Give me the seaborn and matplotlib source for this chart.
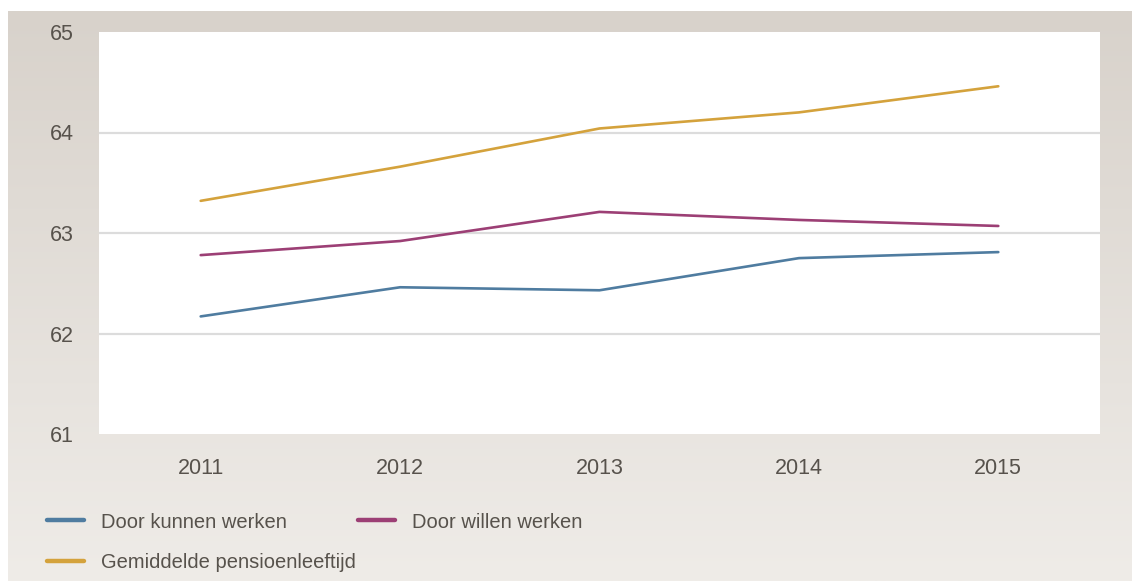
import numpy as np
import pandas as pd
import seaborn as sns
import matplotlib.pyplot as plt
from matplotlib.lines import Line2D

# data
years = [2011, 2012, 2013, 2014, 2015]
kunnen = [62.17, 62.46, 62.43, 62.75, 62.81]
willen = [62.78, 62.92, 63.21, 63.13, 63.07]
pensioen = [63.32, 63.66, 64.04, 64.20, 64.46]
labels = ["Door kunnen werken", "Door willen werken", "Gemiddelde pensioenleeftijd"]
colors = ["#4f7ca0", "#9c3f75", "#d4a23c"]
yticks = [61, 62, 63, 64, 65]

df = pd.DataFrame({
    "jaar": years * 3,
    "leeftijd": kunnen + willen + pensioen,
    "reeks": [labels[0]] * 5 + [labels[1]] * 5 + [labels[2]] * 5,
})

sns.set_style("white")
plt.rcParams["font.family"] = ["Liberation Sans", "DejaVu Sans"]
txt = "#57524c"

fig = plt.figure(figsize=(11.32, 5.81), dpi=100)

# beige gradient background with a thin white margin top/left
bg = fig.add_axes([8 / 1132, 0, 1 - 8 / 1132, 1 - 11 / 581], zorder=-10)
top = np.array([216, 210, 203]) / 255
bot = np.array([239, 236, 232]) / 255
t = np.linspace(0, 1, 256)[:, None, None]
grad = top * (1 - t) + bot * t
grad = np.repeat(grad, 2, axis=1)
bg.imshow(grad, aspect="auto", extent=[0, 1, 0, 1])
bg.axis("off")

ax = fig.add_axes([99 / 1132, 1 - 434 / 581, 1001 / 1132, 402 / 581])
ax.set_facecolor("white")
sns.lineplot(data=df, x="jaar", y="leeftijd", hue="reeks", palette=colors,
             linewidth=1.9, ax=ax, legend=False)

ax.set_xlim(2010.49, 2015.51)
ax.set_ylim(61, 65)
ax.set_xticks(years)
ax.set_yticks(yticks)
for y in [62, 63, 64]:
    ax.axhline(y, color="#dcdcdc", linewidth=1.6, zorder=0)
for s in ax.spines.values():
    s.set_visible(False)
ax.tick_params(axis="both", length=0, labelsize=15.5, labelcolor=txt)
ax.tick_params(axis="y", pad=18)
ax.tick_params(axis="x", pad=17)
ax.set_xlabel("")
ax.set_ylabel("")

handles = [Line2D([], [], color=c, linewidth=3.2) for c in colors]
kw = dict(frameon=False, fontsize=14.5, handlelength=1.85, handletextpad=0.85,
          borderpad=0, borderaxespad=0, labelcolor=txt)
leg1 = fig.legend(handles[:2], labels[:2], ncol=2, columnspacing=3.5,
                  loc="center left", bbox_to_anchor=(47 / 1132, 1 - 522 / 581), **kw)
leg2 = fig.legend(handles[2:], labels[2:], loc="center left",
                  bbox_to_anchor=(47 / 1132, 1 - 563 / 581), **kw)

fig.savefig("out.png", dpi=100)
